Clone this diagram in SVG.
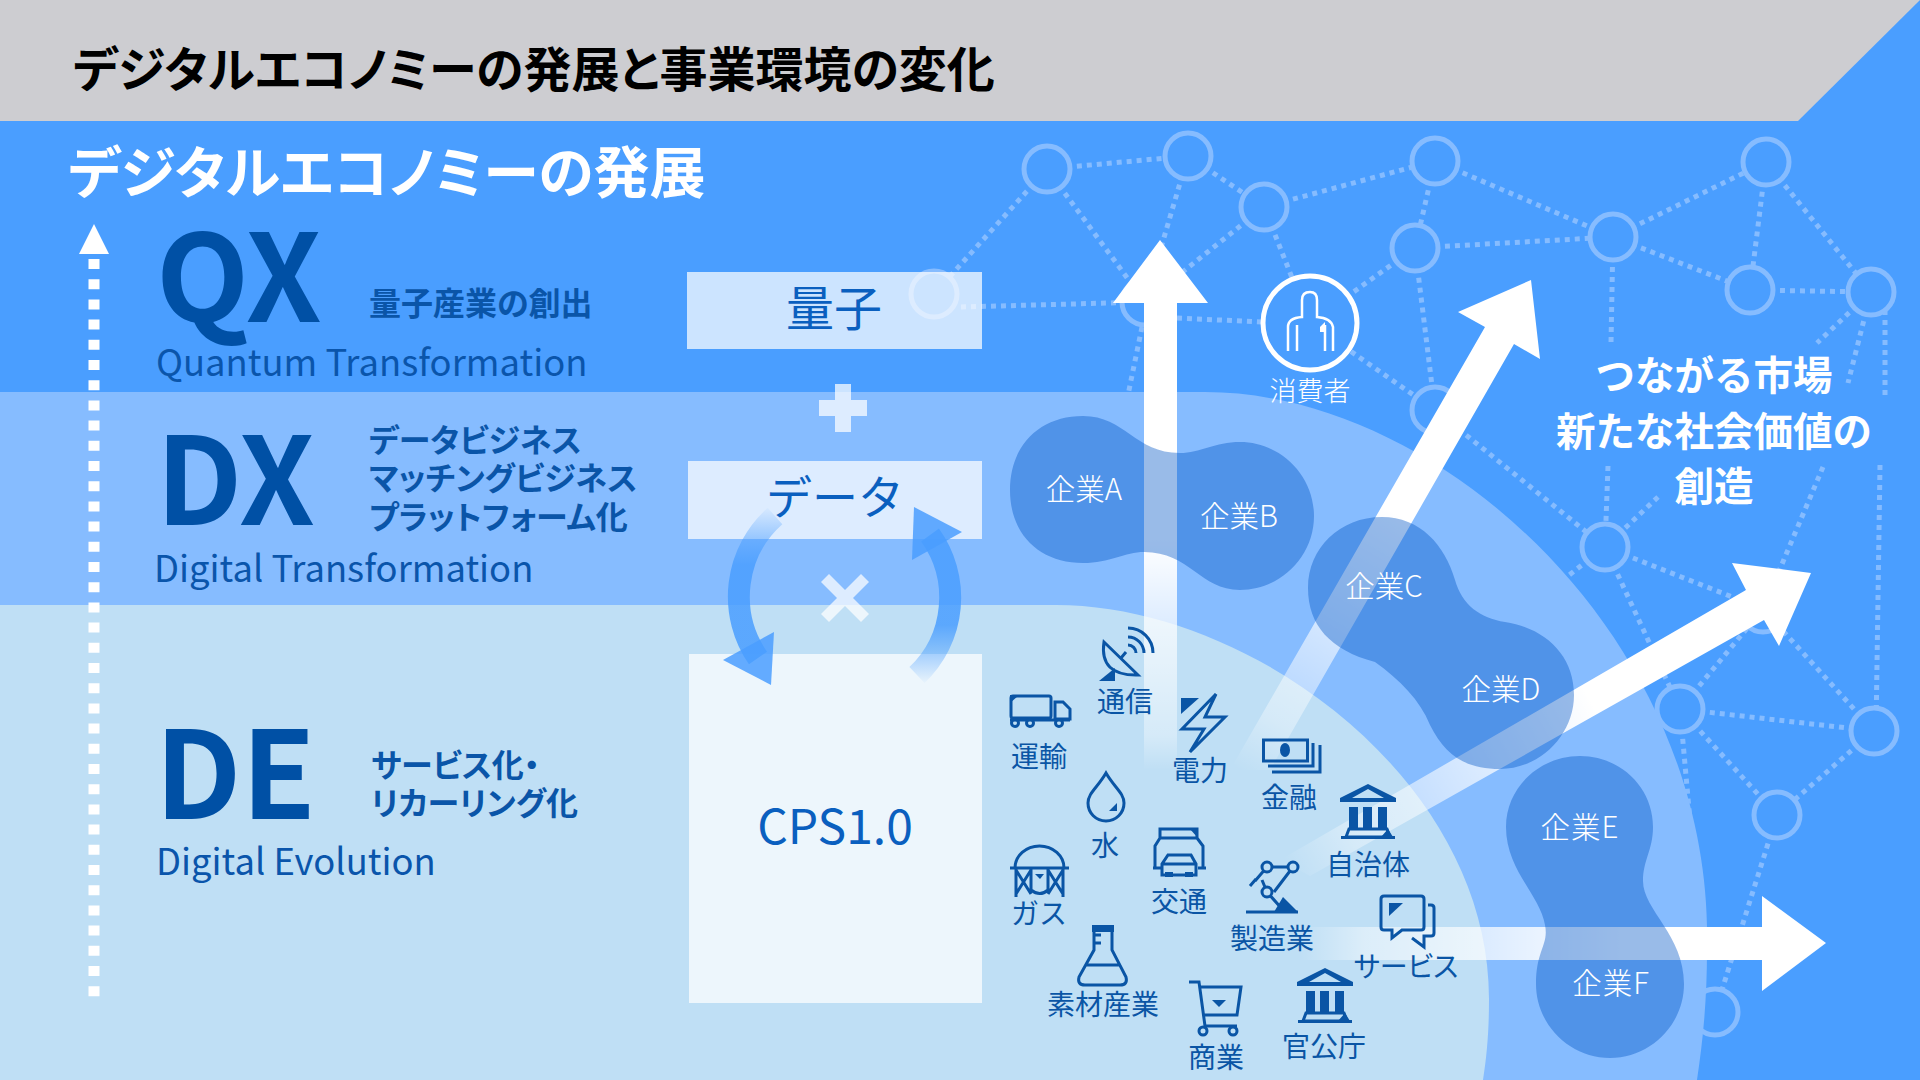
<svg xmlns="http://www.w3.org/2000/svg" xmlns:xlink="http://www.w3.org/1999/xlink" width="1920" height="1080" viewBox="0 0 1920 1080">
<style>
text{font-family:"Noto Sans CJK JP","Noto Sans",sans-serif}
.kern{font-feature-settings:"palt"}
.big{font-size:121px;font-weight:700;fill:#0050a5}
.en{font-size:36.400px;fill:#0a55ab}
.sub{font-size:32px;font-weight:700;fill:#0a55a8;font-feature-settings:"palt"}
.box{fill:#fff;opacity:.72}
.boxt{font-size:48px;fill:#0a5fbf;text-anchor:middle}
.link{fill:none;stroke:#86bcff;stroke-width:5;stroke-dasharray:5 5}
.hub{fill:#4a9eff;stroke:#86bcff;stroke-width:5}
.blob{fill:#0055c5;opacity:.4}
.co{font-size:29.500px;fill:#fff;text-anchor:middle;font-weight:300}
.lab{font-size:28px;fill:#0a55a5;text-anchor:middle;font-weight:400}
.ico{fill:none;stroke:#0a55a5;stroke-width:3;stroke-linejoin:miter}
.sol{fill:#0a55a5}
.msg{font-size:39.500px;font-weight:700;fill:#fff;text-anchor:middle}
</style>
<defs>
<linearGradient id="fadeUp" gradientUnits="userSpaceOnUse" x1="0" y1="770" x2="0" y2="540"><stop offset="0" stop-color="#fff" stop-opacity="0"/><stop offset=".15" stop-color="#fff" stop-opacity=".35"/><stop offset="1" stop-color="#fff"/></linearGradient>
<linearGradient id="fadeDiag1" gradientUnits="userSpaceOnUse" x1="1240" y1="770" x2="1390" y2="510"><stop offset="0" stop-color="#fff" stop-opacity="0"/><stop offset=".2" stop-color="#fff" stop-opacity=".35"/><stop offset="1" stop-color="#fff"/></linearGradient>
<linearGradient id="fadeDiag2" gradientUnits="userSpaceOnUse" x1="1290" y1="870" x2="1590" y2="700"><stop offset="0" stop-color="#fff" stop-opacity="0"/><stop offset=".2" stop-color="#fff" stop-opacity=".35"/><stop offset="1" stop-color="#fff"/></linearGradient>
<linearGradient id="fadeRight" gradientUnits="userSpaceOnUse" x1="1300" y1="0" x2="1620" y2="0"><stop offset="0" stop-color="#fff" stop-opacity="0"/><stop offset=".2" stop-color="#fff" stop-opacity=".45"/><stop offset="1" stop-color="#fff"/></linearGradient>
<linearGradient id="loopL" gradientUnits="userSpaceOnUse" x1="0" y1="505" x2="0" y2="565"><stop offset="0" stop-color="#4a9eff" stop-opacity="0"/><stop offset="1" stop-color="#4a9eff" stop-opacity=".85"/></linearGradient>
<linearGradient id="loopR" gradientUnits="userSpaceOnUse" x1="0" y1="685" x2="0" y2="625"><stop offset="0" stop-color="#4a9eff" stop-opacity="0"/><stop offset="1" stop-color="#4a9eff" stop-opacity=".85"/></linearGradient>
<g id="hall">
<path class="sol" d="M1368 784 1340 798V802H1396V798ZM1368 789 1352 798H1384Z" fill-rule="evenodd"/>
<path class="sol" d="M1349 807h9v21h-9zM1363 807h9v21h-9zM1378 807h9v21h-9zM1341 836h54v3h-54z"/>
<path class="ico" d="M1349 829H1387L1390 837H1346Z"/>
<path class="sol" d="M1381 837 1388 829 1393 837Z"/>
</g>
</defs>

<rect width="1920" height="1080" fill="#4a9eff"/>

<g id="network">
<g>
<path class="link" d="M1047 169 1188 156M1047 169 934 294M1047 169 1145 302M1188 156 1264 207M1188 156 1145 302M1264 207 1145 302M1264 207 1310 323M1264 207 1435 161M1435 161 1415 248M1435 161 1613 237M1415 248 1310 323M1415 248 1613 237M1415 248 1435 410M961 307 1145 302M1177 318 1262 322M1142 327 1128 395M1310 323 1435 410"/>
<path class="link" d="M1613 237 1766 162M1613 237 1750 290M1766 162 1750 290M1766 162 1871 292M1750 290 1871 292M1613 237 1611 343M1608 466 1605 547M1871 292 1817 343M1658 497 1605 547M1871 292 1848 383M1823 467 1763 609M1885 300 1885 400M1880 465 1876 731"/>
<path class="link" d="M1435 410 1605 547M1605 547 1763 609M1605 547 1680 709M1605 547 1550 590M1680 709 1763 609M1680 709 1874 731M1680 709 1777 815M1680 709 1690 820M1763 609 1874 731M1874 731 1777 815M1777 815 1715 1012"/>
</g>
<circle class="hub" cx="1047" cy="169" r="23"/><circle class="hub" cx="1188" cy="156" r="23"/><circle class="hub" cx="1264" cy="207" r="23"/><circle class="hub" cx="1435" cy="161" r="23"/><circle class="hub" cx="1415" cy="248" r="23"/><circle class="hub" cx="1613" cy="237" r="23"/><circle class="hub" cx="1766" cy="162" r="23"/><circle class="hub" cx="1750" cy="290" r="23"/><circle class="hub" cx="1871" cy="292" r="23"/><circle class="hub" cx="934" cy="294" r="23"/><circle class="hub" cx="1145" cy="302" r="23"/><circle class="hub" cx="1435" cy="410" r="23"/><circle class="hub" cx="1605" cy="547" r="23"/><circle class="hub" cx="1680" cy="709" r="23"/><circle class="hub" cx="1763" cy="609" r="23"/><circle class="hub" cx="1874" cy="731" r="23"/><circle class="hub" cx="1777" cy="815" r="23"/><circle class="hub" cx="1715" cy="1012" r="23"/>
</g>

<path id="band-dx" fill="#86bcff" d="M0 392H1205C1440 392 1715 640 1707 950C1707 1000 1703 1040 1697 1080H0Z"/>
<path id="band-de" fill="#bfdff5" d="M0 605H1056C1250 605 1490 780 1489 1000C1489 1030 1487 1055 1483 1080H0Z"/>
<g id="header"><path fill="#cdcdd1" d="M0 0H1920L1798 121H0Z"/>
<text class="kern" x="73" y="87" font-size="48" font-weight="700" fill="#000">デジタルエコノミーの発展と事業環境の変化</text></g>
<text id="section-title" class="kern" x="68" y="193" font-size="56" font-weight="700" fill="#fff">デジタルエコノミーの発展</text>

<g id="timeline"><path d="M94 224 109 254H79Z" fill="#fff"/><path d="M94 259V997" stroke="#fff" stroke-width="11" stroke-dasharray="10 10.200" fill="none"/></g>

<g id="level-qx"><text class="big" x="156" y="322">QX</text><text class="en" x="156" y="376">Quantum Transformation</text><text class="sub" x="369" y="315">量子産業の創出</text></g>
<g id="level-dx"><text class="big" x="156" y="525">DX</text><text class="en" x="154" y="582">Digital Transformation</text><text class="sub" x="369" y="452">データビジネス</text><text class="sub" x="369" y="490">マッチングビジネス</text><text class="sub" x="369" y="529">プラットフォーム化</text></g>
<g id="level-de"><text class="big" x="155" y="819">DE</text><text class="en" x="156" y="875">Digital Evolution</text><text class="sub" x="371" y="777">サービス化・</text><text class="sub" x="371" y="815">リカーリング化</text></g>

<g id="box-quantum"><rect class="box" x="687" y="272" width="295" height="77"/><text class="boxt" x="834" y="326">量子</text></g>
<g id="box-data"><rect class="box" x="688" y="461" width="294" height="78"/><text class="boxt" x="835" y="514" style="font-size:46px">データ</text></g>
<g id="box-cps"><rect class="box" x="689" y="654" width="293" height="349"/><text class="boxt" x="835" y="844">CPS1.0</text></g>
<g id="operators" fill="#fff" opacity=".72"><path d="M835 384h16v16h16v16h-16v16h-16v-16h-16v-16h16z"/><path d="M829 574 845 590 861 574 869 582 853 598 869 614 861 622 845 606 829 622 821 614 837 598 821 582Z"/></g>

<g id="loop">
<path d="M775 516A108 108 0 0 0 758 658" fill="none" stroke="url(#loopL)" stroke-width="22"/>
<path d="M723 660 774 632 771 685Z" fill="#4a9eff" opacity=".85"/>
<path d="M917 675A107 107 0 0 0 930 535" fill="none" stroke="url(#loopR)" stroke-width="22"/>
<path d="M962 532 914 507 912 560Z" fill="#4a9eff" opacity=".85"/>
</g>

<g id="connectors">
<path fill="url(#fadeUp)" d="M1160 240 1208 303H1177V770H1144V303H1113Z"/>
<path fill="url(#fadeDiag1)" d="M1531 280 1540 359 1514 344 1270 770 1230 770 1485 327 1458 312Z"/>
<path fill="url(#fadeDiag2)" d="M1811 573 1779 646 1764 620 1310 876 1280 860 1746 590 1732 563Z"/>
<path fill="url(#fadeRight)" d="M1826 943 1762 991V960H1300V927H1762V896Z"/>
</g>

<g id="company-ab"><path class="blob" d="M1010 490C1010 445 1040 416 1083 416C1125 416 1135 453 1180 453C1200 453 1215 442 1240 442C1280 442 1314 475 1314 516C1314 557 1280 590 1240 590C1200 590 1190 552 1144 552C1125 552 1110 563 1083 563C1040 563 1010 535 1010 490Z"/><text class="co" x="1084" y="500">企業A</text><text class="co" x="1239" y="527">企業B</text></g>
<g id="company-cd"><path class="blob" d="M1308 588C1308 548 1340 517 1382 517C1420 517 1445 545 1455 580C1462 605 1480 618 1505 622C1545 628 1574 655 1574 695C1574 735 1540 769 1500 769C1465 769 1445 755 1430 725C1420 700 1400 680 1375 662C1330 650 1308 625 1308 588Z"/><text class="co" x="1384" y="597">企業C</text><text class="co" x="1501" y="700">企業D</text></g>
<g id="company-ef"><path class="blob" d="M1506 827C1506 787 1540 756 1580 756C1620 756 1653 787 1653 827C1653 850 1643 860 1643 881C1643 910 1684 935 1684 984C1684 1025 1650 1058 1610 1058C1570 1058 1536 1025 1536 984C1536 950 1549 945 1545 925C1540 895 1506 870 1506 827Z"/><text class="co" x="1580" y="838" letter-spacing="1">企業E</text><text class="co" x="1611" y="994" letter-spacing="1">企業F</text></g>

<g id="consumer"><circle cx="1310" cy="323" r="47" fill="#4a9eff" stroke="#fff" stroke-width="5"/>
<path fill="none" stroke="#fff" stroke-width="2.500" d="M1288 351V327Q1288 318 1302 317V300Q1302 292 1310 292Q1317 292 1317 300V317Q1331 318 1333 327V351M1297 325V351M1325 325V351"/><path fill="#fff" d="M1320 327 1325 322V332H1320Z"/>
<text x="1310" y="401" font-size="27" font-weight="300" fill="#fff" text-anchor="middle">消費者</text></g>

<g id="message"><text class="msg" x="1714" y="390">つながる市場</text><text class="msg" x="1714" y="446">新たな社会価値の</text><text class="msg" x="1714" y="501">創造</text></g>

<g id="sector-telecom"><path class="ico" d="M1104 642Q1099 676 1138 675Z"/><path class="sol" d="M1099 681 1115 668V681Z"/><path class="ico" d="M1121 658 1126 652M1128 645A8 8 0 0 1 1136 653M1128 637A16 16 0 0 1 1144 653M1128 628A25 25 0 0 1 1153 653"/><text class="lab" x="1125" y="712">通信</text></g>
<g id="sector-transport"><rect class="ico" x="1011" y="696" width="40" height="22" rx="2"/><path class="ico" d="M1055 702H1063L1070 709V719H1055ZM1010 720H1070"/><path class="sol" d="M1010 695H1019L1010 703Z"/><circle class="ico" cx="1015" cy="723" r="3.500"/><circle class="ico" cx="1030" cy="723" r="3.500"/><circle class="ico" cx="1059" cy="723" r="3.500"/><text class="lab" x="1039" y="767">運輸</text></g>
<g id="sector-power"><path class="ico" d="M1216 694 1182 729H1204L1190 752 1225 717H1205Z"/><path class="sol" d="M1181 698H1199L1181 714Z"/><text class="lab" x="1200" y="781">電力</text></g>
<g id="sector-finance"><rect class="ico" x="1263.500" y="740" width="44" height="21" stroke-width="4"/><ellipse class="sol" cx="1285" cy="750" rx="5" ry="7"/><path class="ico" d="M1268 766H1313V743M1272 772H1320V745"/><text class="lab" x="1289" y="808">金融</text></g>
<g id="sector-water"><path class="ico" d="M1106 773C1098 787 1088 793 1088 803C1088 813 1096 821 1106 821C1116 821 1124 813 1124 803C1124 793 1114 787 1106 773Z"/><path class="sol" d="M1109 811 1117 803V811Z"/><text class="lab" x="1105" y="856">水</text></g>
<g id="sector-municipal"><use href="#hall" xlink:href="#hall"/><text class="lab" x="1368" y="875">自治体</text></g>
<g id="sector-traffic"><path class="ico" d="M1160 829H1197V838H1160ZM1160 838 1155 846V868M1197 838 1203 846V868M1153 868H1161M1198 868H1206"/><path class="sol" d="M1189 828H1198V838Z"/><path class="ico" d="M1168 855H1191L1196 864V875H1162V864ZM1162 864H1196"/><path class="sol" d="M1165 872h8v5h-8zM1185 872h8v5h-8z"/><text class="lab" x="1179" y="912">交通</text></g>
<g id="sector-gas"><path class="ico" d="M1015 868A24.500 22 0 0 1 1064 868M1010 868H1069M1016 868V897M1063 868V897M1016 870 1031 894M1031 870 1016 894M1048 870 1063 894M1063 870 1048 894M1031 868V890Q1040 897 1048 890V868"/><path class="sol" d="M1035 874H1044L1040 879Z"/><text class="lab" x="1039" y="924">ガス</text></g>
<g id="sector-manufacturing"><path class="ico" d="M1246 912H1298M1267 867H1293M1293 867 1274 892M1267 867 1255 881M1267 892 1283 910M1267 892 1262 880M1250 886 1256 879"/><circle cx="1267" cy="867" r="5" fill="#bfdff5" stroke="#0a55a5" stroke-width="3"/><circle cx="1293" cy="867" r="5" fill="#bfdff5" stroke="#0a55a5" stroke-width="3"/><circle cx="1267" cy="892" r="5" fill="#bfdff5" stroke="#0a55a5" stroke-width="3"/><path class="sol" d="M1283 897 1298 912H1274Z"/><text class="lab" x="1272" y="949">製造業</text></g>
<g id="sector-service"><path class="ico" d="M1384 896H1421Q1424 896 1424 899V927Q1424 930 1421 930H1402L1392 938V930H1384Q1381 930 1381 927V899Q1381 896 1384 896ZM1428 905H1431Q1434 905 1434 908V933Q1434 936 1431 936H1424V947L1412 938"/><path class="sol" d="M1389 903H1403L1389 916Z"/><text class="lab kern" x="1406" y="977">サービス</text></g>
<g id="sector-materials"><path class="ico" d="M1094 926V950L1079 977Q1077 985 1085 985H1120Q1128 985 1126 977L1112 950V926M1086 965H1120M1094 935H1101M1094 943H1101"/><path class="sol" d="M1092 925H1114V932H1092Z"/><text class="lab" x="1103" y="1015">素材産業</text></g>
<g id="sector-commerce"><path class="ico" d="M1189 982H1199L1205 1026H1237M1199 987H1241L1237 1015H1203"/><circle class="ico" cx="1203" cy="1031" r="4"/><circle class="ico" cx="1233" cy="1031" r="4"/><path class="sol" d="M1212 1000H1226L1219 1007Z"/><text class="lab" x="1216" y="1068">商業</text></g>
<g id="sector-government"><use href="#hall" xlink:href="#hall" transform="translate(-43 184)"/><text class="lab" x="1324" y="1057">官公庁</text></g>
</svg>
